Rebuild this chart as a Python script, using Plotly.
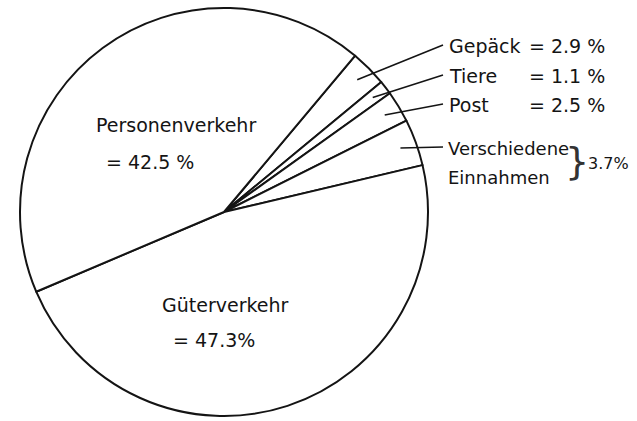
import math
import plotly.graph_objects as go

# ---- data ----
categories = ["Gepäck", "Tiere", "Post", "Verschiedene Einnahmen", "Güterverkehr", "Personenverkehr"]
shares = [2.9, 1.1, 2.5, 3.7, 47.3, 42.5]
small_names = ["Gepäck", "Tiere", "Post"]
small_values = ["= 2.9 %", "= 1.1 %", "= 2.5 %"]
misc_lines = ["Verschiedene", "Einnahmen"]
misc_value = "3.7%"
big_names = ["Personenverkehr", "Güterverkehr"]
big_values = ["= 42.5 %", "= 47.3%"]

# ---- layout helpers (pixels -> paper) ----
W, H = 637, 421
CX, CY, R = 224, 212, 204
START_DEG = 50  # math angle where first slice begins (clockwise)


def px(x):
    return x / W


def py(y):
    return 1 - y / H


FONT = "DejaVu Sans"
INK = "#141414"

fig = go.Figure(
    go.Pie(
        labels=categories,
        values=shares,
        sort=False,
        direction="clockwise",
        rotation=90 - START_DEG,
        marker=dict(colors=["white"] * len(categories), line=dict(color=INK, width=2)),
        textinfo="none",
        hoverinfo="label+value",
        showlegend=False,
        domain=dict(x=[px(CX - R), px(CX + R)], y=[py(CY + R), py(CY - R)]),
    )
)

# mid angles of the slices (from the data)
total = sum(shares)
mids = []
a = START_DEG
for v in shares:
    span = v / total * 360
    mids.append(a - span / 2)
    a -= span

annotations = []
shapes = []

# small slices: leader lines + labels
label_y = [46, 76, 105, 148]
for i in range(4):
    ang = math.radians(mids[i])
    ix = CX + 0.92 * R * math.cos(ang)
    iy = CY - 0.92 * R * math.sin(ang)
    shapes.append(dict(type="line", xref="paper", yref="paper",
                       x0=px(ix), y0=py(iy), x1=px(443), y1=py(label_y[i] - 1),
                       line=dict(color=INK, width=1.6)))

for i in range(3):
    annotations.append(dict(x=px(447), y=py(label_y[i]), xref="paper", yref="paper",
                            text=small_names[i], showarrow=False, xanchor="left", yanchor="middle",
                            font=dict(family=FONT, size=19, color=INK)))
    annotations.append(dict(x=px(527), y=py(label_y[i]), xref="paper", yref="paper",
                            text=small_values[i], showarrow=False, xanchor="left", yanchor="middle",
                            font=dict(family=FONT, size=19, color=INK)))

for j, t in enumerate(misc_lines):
    annotations.append(dict(x=px(446), y=py(148 + 29 * j), xref="paper", yref="paper",
                            text=t, showarrow=False, xanchor="left", yanchor="middle",
                            font=dict(family=FONT, size=18, color=INK)))
annotations.append(dict(x=px(577), y=py(161), xref="paper", yref="paper",
                        text="}", showarrow=False, xanchor="center", yanchor="middle",
                        font=dict(family=FONT, size=38, color="#333333")))
annotations.append(dict(x=px(586), y=py(164), xref="paper", yref="paper",
                        text=misc_value, showarrow=False, xanchor="left", yanchor="middle",
                        font=dict(family=FONT, size=16, color=INK)))

# big slices labels
big_pos = [((176, 125), (150, 162)), ((225, 305), (214, 340))]
for k in range(2):
    (nx, ny), (vx, vy) = big_pos[k]
    annotations.append(dict(x=px(nx), y=py(ny), xref="paper", yref="paper",
                            text=big_names[k], showarrow=False, xanchor="center", yanchor="middle",
                            font=dict(family=FONT, size=19, color=INK)))
    annotations.append(dict(x=px(vx), y=py(vy), xref="paper", yref="paper",
                            text=big_values[k], showarrow=False, xanchor="center", yanchor="middle",
                            font=dict(family=FONT, size=19, color=INK)))

fig.update_layout(
    width=W, height=H,
    margin=dict(l=0, r=0, t=0, b=0),
    paper_bgcolor="white",
    plot_bgcolor="white",
    annotations=annotations,
    shapes=shapes,
)

fig.write_html("out.html", config={"displayModeBar": False},
               post_script="document.body.style.margin='0';")
